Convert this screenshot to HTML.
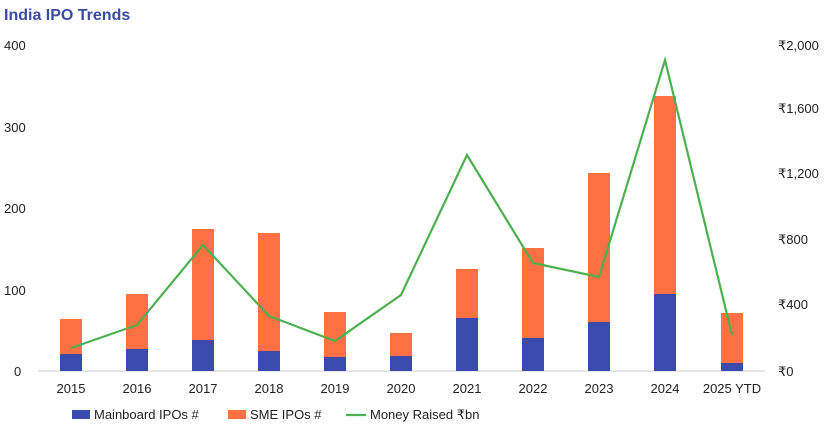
<!DOCTYPE html>
<html><head><meta charset="utf-8"><style>
body{margin:0;background:#fff;font-family:"Liberation Sans",sans-serif;}
</style></head><body>
<svg width="830" height="432" xmlns="http://www.w3.org/2000/svg" font-family="Liberation Sans, sans-serif">
<rect width="830" height="432" fill="#fff"/>
<text x="4" y="20" font-size="16" font-weight="bold" fill="#3b4aa3">India IPO Trends</text>
<g font-size="13" fill="#222">
<text x="4" y="50">400</text><text x="4" y="132">300</text><text x="4" y="213">200</text><text x="4" y="295">100</text><text x="14" y="376">0</text>
<text x="778" y="50">₹2,000</text><text x="778" y="113">₹1,600</text><text x="778" y="178">₹1,200</text><text x="778" y="244">₹800</text><text x="778" y="309">₹400</text><text x="778" y="376">₹0</text>
</g>
<line x1="38" y1="371" x2="765" y2="371" stroke="#ccc"/>
<g fill="#ff7043">
<rect x="60" y="319" width="22" height="52"/><rect x="126" y="294" width="22" height="77"/><rect x="192" y="229" width="22" height="142"/><rect x="258" y="233" width="22" height="138"/><rect x="324" y="312" width="22" height="59"/><rect x="390" y="333" width="22" height="38"/><rect x="456" y="269" width="22" height="102"/><rect x="522" y="248" width="22" height="123"/><rect x="588" y="173" width="22" height="198"/><rect x="654" y="96" width="22" height="275"/><rect x="721" y="313" width="22" height="58"/>
</g>
<g fill="#3b4aad">
<rect x="60" y="354" width="22" height="17"/><rect x="126" y="349" width="22" height="22"/><rect x="192" y="340" width="22" height="31"/><rect x="258" y="351" width="22" height="20"/><rect x="324" y="357" width="22" height="14"/><rect x="390" y="356" width="22" height="15"/><rect x="456" y="318" width="22" height="53"/><rect x="522" y="338" width="22" height="33"/><rect x="588" y="322" width="22" height="49"/><rect x="654" y="294" width="22" height="77"/><rect x="721" y="363" width="22" height="8"/>
</g>
<polyline fill="none" stroke="#4caf50" stroke-width="2.2" points="71,348 137,325 203,245 269,316 335,341 401,295 467,155 533,263 599,277 665,60 732,335"/>
<g font-size="13" fill="#222" text-anchor="middle">
<text x="71" y="393">2015</text><text x="137" y="393">2016</text><text x="203" y="393">2017</text><text x="269" y="393">2018</text><text x="335" y="393">2019</text><text x="401" y="393">2020</text><text x="467" y="393">2021</text><text x="533" y="393">2022</text><text x="599" y="393">2023</text><text x="665" y="393">2024</text><text x="732" y="393">2025 YTD</text>
</g>
<g font-size="13" fill="#222">
<rect x="72" y="410" width="18" height="9" fill="#3b4aad"/><text x="94" y="419">Mainboard IPOs #</text>
<rect x="228" y="410" width="18" height="9" fill="#ff7043"/><text x="250" y="419">SME IPOs #</text>
<line x1="346" y1="415" x2="366" y2="415" stroke="#4caf50" stroke-width="2.2"/><text x="370" y="419">Money Raised ₹bn</text>
</g>
</svg>
</body></html>
